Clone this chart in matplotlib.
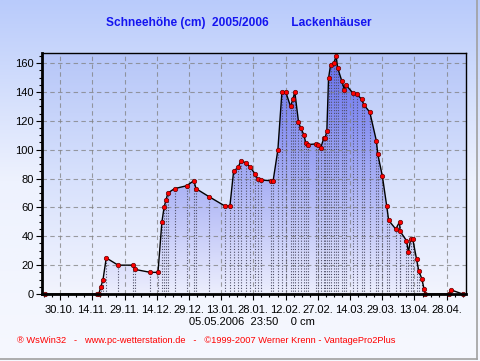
import numpy as np
import pandas as pd
import matplotlib
matplotlib.use("Agg")
import matplotlib.pyplot as plt
import matplotlib.dates as mdates
from matplotlib.colors import LinearSegmentedColormap
from matplotlib.patches import Polygon
from matplotlib.lines import Line2D

plt.rcParams["font.family"] = ["Liberation Sans", "DejaVu Sans"]

# snow depth readings, Lackenhaeuser winter 2005/2006
dates = [
    "2005-10-23", "2005-11-16", "2005-11-17", "2005-11-18", "2005-11-19",
    "2005-11-20 12:00", "2005-11-26", "2005-12-03", "2005-12-04", "2005-12-11",
    "2005-12-14 14:00", "2005-12-16 10:00", "2005-12-17 10:00", "2005-12-18 07:00",
    "2005-12-19 05:00", "2005-12-22 07:00", "2005-12-27 22:00", "2005-12-31 07:00",
    "2006-01-01 07:00", "2006-01-07 07:00", "2006-01-14 17:00", "2006-01-17 02:00",
    "2006-01-18 19:00", "2006-01-21", "2006-01-22 02:00", "2006-01-24 12:00",
    "2006-01-26 10:00", "2006-01-28 22:00", "2006-01-30 02:00", "2006-01-31 12:00",
    "2006-02-05 02:00", "2006-02-06 05:00", "2006-02-08 10:00", "2006-02-10 07:00",
    "2006-02-12 02:00", "2006-02-14 07:00", "2006-02-15 10:00", "2006-02-16 07:00",
    "2006-02-18", "2006-02-19", "2006-02-20 12:00", "2006-02-21 10:00",
    "2006-02-22 07:00", "2006-02-26 02:00", "2006-02-27 02:00", "2006-02-28 07:00",
    "2006-03-01 19:00", "2006-03-02 10:00", "2006-03-03 05:00", "2006-03-04",
    "2006-03-04 22:00", "2006-03-06 12:00", "2006-03-07 12:00", "2006-03-08 07:00",
    "2006-03-10 05:00", "2006-03-11 10:00", "2006-03-12", "2006-03-15 05:00",
    "2006-03-17 02:00", "2006-03-19 10:00", "2006-03-20 12:00", "2006-03-23 05:00",
    "2006-03-26 07:00", "2006-03-26 22:00", "2006-03-29 02:00", "2006-03-31 02:00",
    "2006-04-01", "2006-04-04 07:00", "2006-04-06 02:00", "2006-04-06 07:00",
    "2006-04-09 07:00", "2006-04-10 05:00", "2006-04-11 05:00", "2006-04-12 05:00",
    "2006-04-14", "2006-04-15", "2006-04-16 10:00", "2006-04-17 10:00",
    "2006-04-18", "2006-04-29", "2006-04-29 22:00", "2006-05-05 10:00",
]
snow_cm = [
    0, 0, 0, 5, 10,
    25, 20, 20, 17, 15,
    15, 50, 60, 65,
    70, 73, 75, 78.5,
    73, 67.5, 61, 61,
    85, 88, 92, 91,
    88, 83, 79.5, 79,
    78.5, 78.5, 100, 140,
    140, 130, 135, 140,
    119.5, 115, 110.5, 104.5,
    103.5, 104, 103, 101,
    108, 108, 113, 149.5,
    158.5, 160, 165, 156.5,
    147.5, 141.5, 145, 139.5,
    138.5, 135, 131, 126,
    106, 97, 81.5, 61,
    51, 45, 50, 43.5,
    37, 29, 38, 38,
    24, 16, 10.7, 3.8,
    0, 0, 2.9, 0,
]
tick_dates = ["2005-10-30", "2005-11-14", "2005-11-29", "2005-12-14", "2005-12-29",
              "2006-01-13", "2006-01-28", "2006-02-12", "2006-02-27", "2006-03-14",
              "2006-03-29", "2006-04-13", "2006-04-28"]
tick_labels = ["30.10.", "14.11.", "29.11.", "14.12.", "29.12.", "13.01.", "28.01.",
               "12.02.", "27.02.", "14.03.", "29.03.", "13.04.", "28.04."]
x_range = ["2005-10-21 14:00", "2006-05-07 00:00"]
y_max = 167


def to_num(values):
    return mdates.date2num(pd.to_datetime(values, format="ISO8601").to_pydatetime())


x = to_num(dates)
y = np.array(snow_cm, dtype=float)
xt = to_num(tick_dates)
x0, x1 = to_num(x_range)

fig = plt.figure(figsize=(4.81, 3.61), dpi=100)

# figure background gradient
bg = fig.add_axes([0, 0, 1, 1], zorder=-10)
bg_cmap = LinearSegmentedColormap.from_list("bg", ["#f6f8fe", "#eef2fe", "#b9cbfb"])
bg.imshow(np.linspace(0, 1, 256).reshape(-1, 1), aspect="auto", cmap=bg_cmap,
          origin="lower", extent=[0, 1, 0, 1])
bg.axis("off")
fig.add_artist(Line2D([0, 0.992], [0.006, 0.006], color="#a0a0a0", lw=1.2))
fig.add_artist(Line2D([0.992, 0.992], [0.006, 1], color="#a0a0a0", lw=1.2))

ax = fig.add_axes([0.0873, 0.1856, 0.8815, 0.6676])
ax.set_facecolor("none")

ax_cmap = LinearSegmentedColormap.from_list("axbg", ["#f2f4fe", "#d6e0fc", "#b6c6f8"])
ax.imshow(np.linspace(0, 1, 256).reshape(-1, 1), aspect="auto", cmap=ax_cmap,
          origin="lower", extent=[x0, x1, 0, y_max], zorder=0)

fill_cmap = LinearSegmentedColormap.from_list("fill", ["#eceefd", "#a4acf4", "#646eee"])
im = ax.imshow(np.linspace(0, 1, 256).reshape(-1, 1), aspect="auto", cmap=fill_cmap,
               origin="lower", extent=[x0, x1, 0, y_max], zorder=1)
verts = np.column_stack([np.r_[x[0], x, x[-1]], np.r_[0, y, 0]])
clip = Polygon(verts, closed=True, facecolor="none", edgecolor="none",
               transform=ax.transData)
ax.add_patch(clip)
im.set_clip_path(clip)

ax.vlines(x, 0, y, colors="#505068", linestyles=(0, (1, 1.5)), lw=0.8, zorder=3)
ax.plot(x, y, color="black", lw=1.0, zorder=4)
ax.plot(x, y, "o", ms=3.2, mfc="#ff0000", mec="#600000", mew=0.5, zorder=5,
        clip_on=False)

ax.set_xlim(x0, x1)
ax.set_ylim(0, y_max)

ax.set_xticks(xt)
ax.set_xticklabels(tick_labels)
ax.set_xticks(np.arange(xt[0] - 2 * 3.75, x1, 3.75), minor=True)
ax.set_yticks(np.arange(0, 161, 20))
ax.set_yticks(np.arange(0, 166, 5), minor=True)
ax.tick_params(axis="both", which="major", length=4, width=0.8, labelsize=8,
               colors="black", pad=2)
ax.tick_params(axis="both", which="minor", length=2.5, width=0.8)
ax.tick_params(axis="x", pad=4)

ax.set_axisbelow(False)
ax.grid(True, which="major", color="#808080", linestyle=(0, (4, 3)), lw=0.8, alpha=0.75)

for side in ["left", "bottom"]:
    ax.spines[side].set_linewidth(2)
for side in ["top", "right"]:
    ax.spines[side].set_linewidth(1)
for sp in ax.spines.values():
    sp.set_zorder(6)

fig.text(0.497, 0.935, "Schneehöhe (cm)  2005/2006       Lackenhäuser",
         ha="center", va="center", color="#1414f0", fontsize=8.6, fontweight="bold")
fig.text(0.524, 0.108, "05.05.2006  23:50    0 cm", ha="center", va="center",
         fontsize=8, color="black")
fig.text(0.035, 0.058,
         "® WsWin32   -   www.pc-wetterstation.de   -   ©1999-2007 Werner Krenn - VantagePro2Plus",
         ha="left", va="center", fontsize=6.7, color="#ff0000")

fig.savefig("out.png", dpi=100)
